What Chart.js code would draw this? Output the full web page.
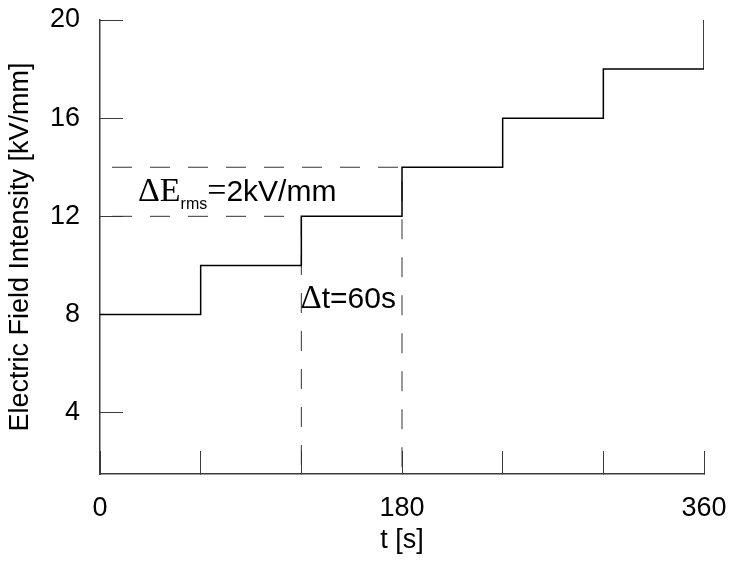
<!DOCTYPE html>
<html lang="en">
<head>
  <meta charset="UTF-8">
  <title>Step ramp of electric field</title>
  <style>
    body {
      margin: 0;
      background: #fff;
    }
    #chartBox {
      width: 731px;
      height: 563px;
    }
  </style>
</head>
<body>
  <div id="chartBox">
    <canvas id="rampChart" width="731" height="563"></canvas>
  </div>

  <script src="https://cdn.jsdelivr.net/npm/chart.js"></script>
  <script>
    // step times [s] and field level held from each time on [kV/mm]
    const stepTimes = [0, 60, 120, 180, 240, 300, 360];
    const fieldLevels = [8, 10, 12, 14, 16, 18, 20];

    // the two marked levels and the times where they start
    const markedLevels = [12, 14];
    const markedTimes = [120, 180];

    const yTickValues = [4, 8, 12, 16, 20];
    const xTickValues = [0, 60, 120, 180, 240, 300, 360];
    const xTickLabels = [0, 180, 360];
    const yMin = 1.5;
    const yMax = 20;

    const fontSans = '"Liberation Sans", Arial, sans-serif';
    const fontSerif = '"Liberation Serif", "Times New Roman", serif';
    const axisColor = '#3a3a3a';

    // staircase points
    const stepData = stepTimes.map((t, i) => ({ x: t, y: fieldLevels[i] }));

    // dashed guides: across at the level, then down to the axis
    const guideSets = markedLevels.map((lvl, i) => ({
      data: [
        { x: 0, y: lvl },
        { x: markedTimes[i], y: lvl },
        { x: markedTimes[i], y: yMin }
      ],
      borderColor: '#333',
      borderWidth: 1,
      borderDash: [20, 18],
      borderDashOffset: 26,
      pointRadius: 0,
      fill: false
    }));

    // text notes, placed in data units
    const notes = [
      { x: 22.6, y: 12.62, parts: [
        { text: '\u0394E', font: fontSerif, size: 34, dy: 0 },
        { text: 'rms', font: fontSans, size: 16, dy: 8 },
        { text: '=', font: fontSerif, size: 34, dy: 0 },
        { text: '2kV/mm', font: fontSans, size: 30, dy: 0 }
      ] },
      { x: 119.5, y: 8.26, parts: [
        { text: '\u0394', font: fontSerif, size: 33, dy: 0 },
        { text: 't=60s', font: fontSans, size: 30, dy: 0 }
      ] }
    ];

    const notesPlugin = {
      id: 'notes',
      afterDatasetsDraw(chart) {
        const ctx = chart.ctx;
        const xs = chart.scales.x;
        const ys = chart.scales.y;
        ctx.save();
        ctx.fillStyle = '#000';
        ctx.textBaseline = 'alphabetic';
        ctx.textAlign = 'left';
        notes.forEach(n => {
          let px = xs.getPixelForValue(n.x);
          const py = ys.getPixelForValue(n.y);
          n.parts.forEach(p => {
            ctx.font = p.size + 'px ' + p.font;
            ctx.fillText(p.text, px, py + p.dy);
            px += ctx.measureText(p.text).width;
          });
        });
        ctx.restore();
      }
    };

    new Chart(document.getElementById('rampChart'), {
      type: 'line',
      data: {
        datasets: [
          {
            data: stepData,
            stepped: 'before',
            borderColor: '#000',
            borderWidth: 1.5,
            pointRadius: 0,
            fill: false
          },
          ...guideSets
        ]
      },
      options: {
        responsive: false,
        animation: false,
        devicePixelRatio: 1,
        layout: {
          padding: { top: 20, right: 27, left: 0, bottom: 0 }
        },
        plugins: {
          legend: { display: false },
          tooltip: { enabled: false }
        },
        scales: {
          x: {
            type: 'linear',
            min: 0,
            max: 360,
            afterBuildTicks: scale => {
              scale.ticks = xTickValues.map(v => ({ value: v }));
            },
            afterFit: scale => {
              scale.height = 89;
              scale.paddingLeft = 0;
              scale.paddingRight = 0;
            },
            grid: {
              drawOnChartArea: false,
              drawTicks: true,
              tickLength: -23,
              color: axisColor,
              lineWidth: 1
            },
            border: { display: true, color: axisColor, width: 1.5 },
            ticks: {
              padding: 41,
              color: '#000',
              maxRotation: 0,
              autoSkip: false,
              font: { family: fontSans, size: 27 },
              callback: v => (xTickLabels.includes(v) ? String(v) : '')
            },
            title: {
              display: true,
              text: 't [s]',
              color: '#000',
              font: { family: fontSans, size: 27 },
              padding: { top: 0, bottom: 6 }
            }
          },
          y: {
            type: 'linear',
            min: yMin,
            max: yMax,
            afterBuildTicks: scale => {
              scale.ticks = yTickValues.map(v => ({ value: v }));
            },
            afterFit: scale => {
              scale.width = 100;
              scale.paddingTop = 0;
              scale.paddingBottom = 0;
            },
            grid: {
              drawOnChartArea: false,
              drawTicks: true,
              tickLength: -23,
              color: axisColor,
              lineWidth: 1
            },
            border: { display: true, color: axisColor, width: 1.5 },
            ticks: {
              padding: 43,
              color: '#000',
              autoSkip: false,
              font: { family: fontSans, size: 27 }
            },
            title: {
              display: true,
              text: 'Electric Field Intensity [kV/mm]',
              color: '#000',
              font: { family: fontSans, size: 27 },
              padding: { top: 4, bottom: 0 }
            }
          }
        }
      },
      plugins: [notesPlugin]
    });
  </script>
</body>
</html>
